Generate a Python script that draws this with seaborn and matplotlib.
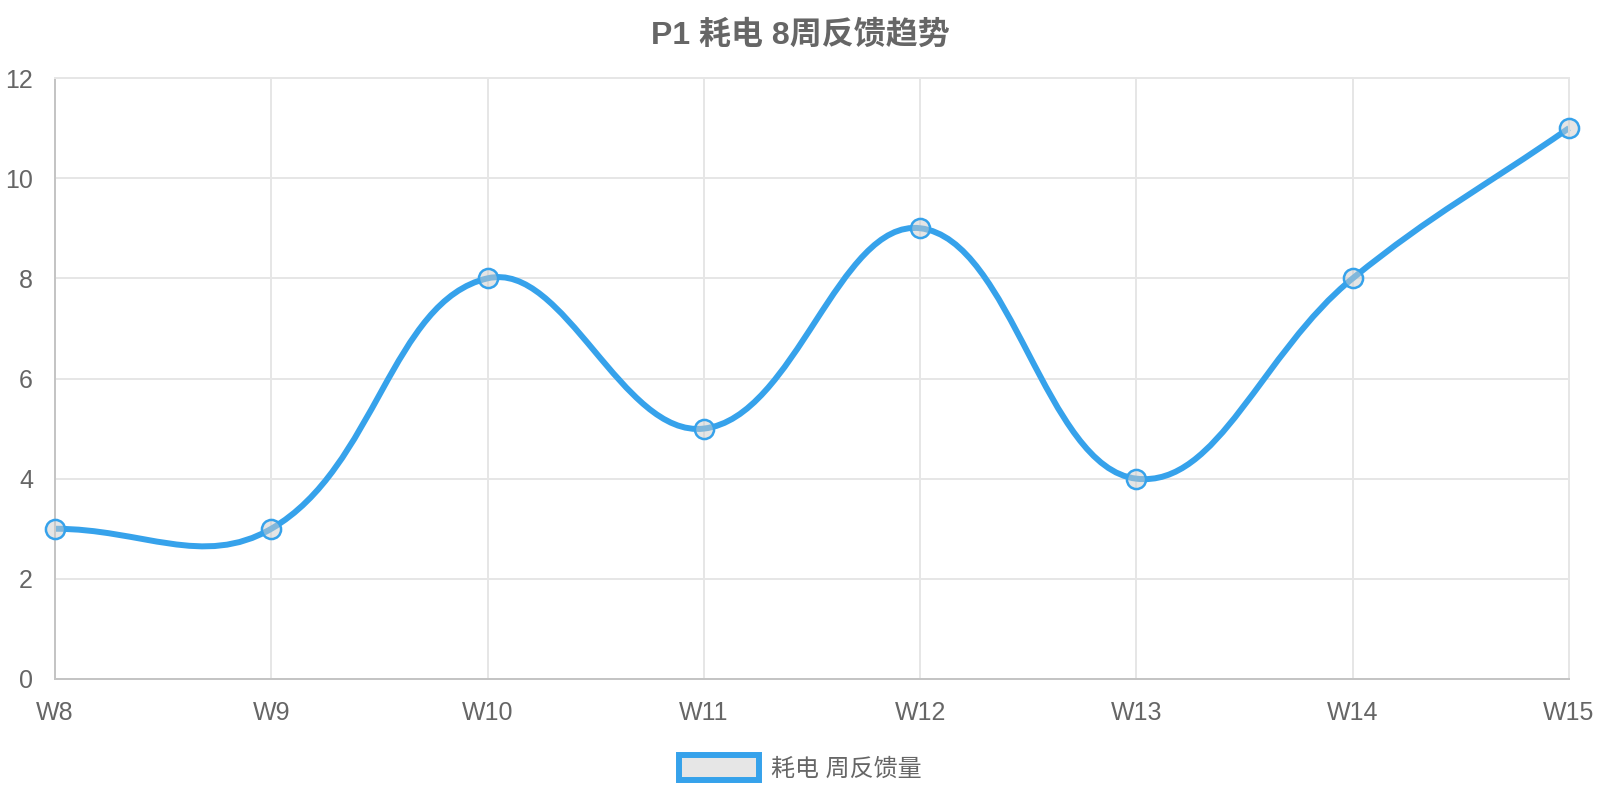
import numpy as np
import pandas as pd
import matplotlib
matplotlib.use("Agg")
import matplotlib.pyplot as plt
from matplotlib.path import Path
from matplotlib.patches import PathPatch, Patch
import seaborn as sns

# datos
weeks = ["W8", "W9", "W10", "W11", "W12", "W13", "W14", "W15"]
feedback = [3, 3, 8, 5, 9, 4, 8, 11]
series_name = "耗电 周反馈量"
title = "P1 耗电 8周反馈趋势"
y_ticks = [0, 2, 4, 6, 8, 10, 12]

blue = "#36A2EB"
text_c = "#666666"
grid_c = "#e6e6e6"
axis_c = "#c4c4c4"

sns.set_theme(style="white")
plt.rcParams["font.family"] = ["Liberation Sans", "Noto Sans CJK SC"]

df = pd.DataFrame({"week": weeks, "value": feedback})
df["idx"] = np.arange(len(df))

fig = plt.figure(figsize=(16, 8), dpi=100)
ax = fig.add_axes([0.034375, 0.15125, 0.94625, 0.75125])
ax.set_xlim(0, len(weeks) - 1)
ax.set_ylim(y_ticks[0], y_ticks[-1])
ax.set_yticks(y_ticks)
ax.set_xticks(df["idx"], weeks)

# curva suave tipo chart.js (tension 0.4), calculada en pixeles
pts = ax.transData.transform(np.column_stack([df["idx"], df["value"]]))
n = len(pts)
cp_prev = np.zeros_like(pts)
cp_next = np.zeros_like(pts)
for i in range(n):
    prev = pts[max(i - 1, 0)]
    cur = pts[i]
    nxt = pts[min(i + 1, n - 1)]
    d01 = np.hypot(*(cur - prev))
    d12 = np.hypot(*(nxt - cur))
    tot = d01 + d12
    s01 = d01 / tot if tot else 0
    s12 = d12 / tot if tot else 0
    cp_prev[i] = cur - 0.4 * s01 * (nxt - prev)
    cp_next[i] = cur + 0.4 * s12 * (nxt - prev)
bb = ax.bbox
for cp in (cp_prev, cp_next):
    cp[:, 0] = np.clip(cp[:, 0], bb.x0, bb.x1)
    cp[:, 1] = np.clip(cp[:, 1], bb.y0, bb.y1)

verts = [pts[0]]
codes = [Path.MOVETO]
for i in range(n - 1):
    verts += [cp_next[i], cp_prev[i + 1], pts[i + 1]]
    codes += [Path.CURVE4] * 3
verts = ax.transData.inverted().transform(np.array(verts))
ax.add_patch(PathPatch(Path(verts, codes), facecolor="none", edgecolor=blue,
                       linewidth=4.3, zorder=2, clip_on=False, capstyle="butt"))

sns.scatterplot(data=df, x="idx", y="value", ax=ax, s=190,
                color=(0.8, 0.8, 0.8, 0.5), edgecolor=blue, linewidth=1.8,
                zorder=3, clip_on=False, legend=False)

ax.set_xlabel("")
ax.set_ylabel("")
ax.set_axisbelow(True)
ax.grid(True, color=grid_c, linewidth=1.44)
ax.tick_params(axis="both", direction="out", length=10.8, width=1.44,
               color=grid_c, labelcolor=text_c, labelsize=18, pad=5)
ax.yaxis.get_major_ticks()[0].tick1line.set_color(axis_c)
ax.xaxis.get_major_ticks()[0].tick1line.set_color(axis_c)
for side in ["left", "bottom"]:
    ax.spines[side].set_color(axis_c)
    ax.spines[side].set_linewidth(1.44)
for side in ["top", "right"]:
    ax.spines[side].set_color(grid_c)
    ax.spines[side].set_linewidth(1.44)

fig.text(0.5, 0.956, title, ha="center", va="center", fontsize=23,
         fontweight="bold", color=text_c)

fig.legend(handles=[Patch(facecolor="#e6e6e6", edgecolor=blue, linewidth=4.3,
                          label=series_name)],
           loc="center", bbox_to_anchor=(0.5, 0.04), frameon=False,
           fontsize=17.3, handlelength=3.33, handleheight=1.2,
           handletextpad=0.5, labelcolor=text_c)

fig.savefig("out.png", dpi=100)
